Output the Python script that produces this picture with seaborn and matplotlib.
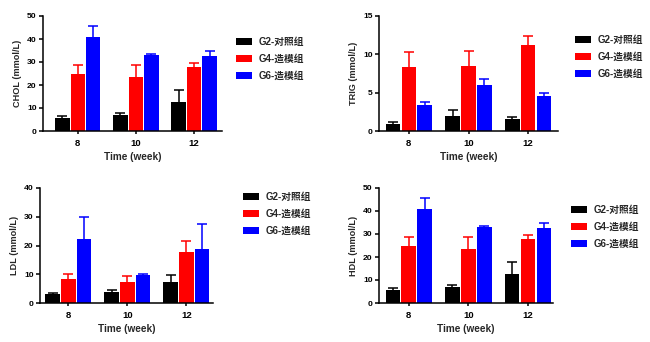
import numpy as np
import pandas as pd
import matplotlib
matplotlib.use("Agg")
import matplotlib.pyplot as plt
import seaborn as sns

# ---- data -------------------------------------------------------------
weeks = ["8", "10", "12"]
groups = ["G2-对照组", "G4-造模组", "G6-造模组"]
colors = ["#000000", "#FF0000", "#0000FF"]

chol_mean = {"G2-对照组": [5.8, 7.0, 12.8], "G4-造模组": [25.0, 23.5, 27.8], "G6-造模组": [41.0, 33.2, 32.6]}
chol_err = {"G2-对照组": [0.6, 0.8, 5.2], "G4-造模组": [3.5, 5.1, 1.8], "G6-造模组": [4.5, 0.3, 2.1]}

trig_mean = {"G2-对照组": [0.95, 1.95, 1.6], "G4-造模组": [8.35, 8.5, 11.25], "G6-造模组": [3.35, 5.95, 4.6]}
trig_err = {"G2-对照组": [0.22, 0.8, 0.2], "G4-造模组": [1.9, 2.0, 1.15], "G6-造模组": [0.45, 0.8, 0.35]}

ldl_mean = {"G2-对照组": [3.1, 3.8, 7.3], "G4-造模组": [8.5, 7.3, 17.9], "G6-造模组": [22.3, 9.9, 18.9]}
ldl_err = {"G2-对照组": [0.3, 0.6, 2.3], "G4-造模组": [1.7, 2.0, 3.5], "G6-造模组": [7.6, 0.2, 8.7]}

hdl_mean = {"G2-对照组": [5.8, 7.0, 12.8], "G4-造模组": [25.0, 23.5, 27.8], "G6-造模组": [41.0, 33.2, 32.6]}
hdl_err = {"G2-对照组": [0.6, 0.8, 5.2], "G4-造模组": [3.5, 5.1, 1.8], "G6-造模组": [4.5, 0.3, 2.1]}

sns.set_theme(style="ticks")
plt.rcParams["font.family"] = ["Liberation Sans", "Noto Sans CJK SC", "DejaVu Sans"]
plt.rcParams["font.weight"] = "bold"
plt.rcParams["axes.labelweight"] = "bold"

fig = plt.figure(figsize=(6.5, 3.42), dpi=100)
W, H = 650.0, 342.0


def to_frame(means, errs):
    rows = []
    for g in groups:
        for w, m, e in zip(weeks, means[g], errs[g]):
            rows.append({"week": w, "group": g, "value": m, "err": e})
    return pd.DataFrame(rows)


def panel(px_left, px_right, px_top, px_bottom, means, errs, ylabel, ymax, ystep,
          xlim, leg_xy):
    ax = fig.add_axes([px_left / W, 1 - px_bottom / H,
                       (px_right - px_left) / W, (px_bottom - px_top) / H])
    df = to_frame(means, errs)
    sns.barplot(data=df, x="week", y="value", hue="group", order=weeks,
                hue_order=groups, palette=colors, errorbar=None,
                width=0.8, gap=0.08, saturation=1, linewidth=0,
                ax=ax, legend=True)
    # upward-only error bars drawn at each bar's centre
    bars = ax.patches[:len(df)]
    for gi, g in enumerate(groups):
        sub = df[df["group"] == g]
        for wi, (val, e) in enumerate(zip(sub["value"], sub["err"])):
            p = bars[gi * len(weeks) + wi]
            xc = p.get_x() + p.get_width() / 2
            ax.plot([xc, xc], [val, val + e], color=colors[gi], lw=1.1,
                    solid_capstyle="butt", zorder=1)
            ax.plot([xc], [val + e], marker="_", markersize=7.5,
                    markeredgewidth=1.1, color=colors[gi], zorder=1)
    ax.set_ylim(0, ymax)
    ax.set_yticks(np.arange(0, ymax + 0.001, ystep))
    ax.set_xlim(*xlim)
    ax.set_xlabel("Time (week)", fontsize=7.2, fontweight="bold", labelpad=3.5)
    ax.set_ylabel(ylabel, fontsize=6.6, fontweight="bold", labelpad=3.5)
    for s in ["top", "right"]:
        ax.spines[s].set_visible(False)
    for s in ["left", "bottom"]:
        ax.spines[s].set_linewidth(1.1)
        ax.spines[s].set_color("black")
    ax.tick_params(axis="y", labelsize=6.1, width=1.1, length=3, pad=1.5, colors="black")
    ax.tick_params(axis="x", labelsize=6.8, width=1.1, length=2.5, pad=3, colors="black")
    for t in ax.get_xticklabels() + ax.get_yticklabels():
        t.set_fontweight("bold")
    handles, labels = ax.get_legend_handles_labels()
    ax.legend_.remove()
    fig.legend(handles, labels, loc="center left",
               bbox_to_anchor=(leg_xy[0] / W, 1 - leg_xy[1] / H),
               frameon=False, handlelength=1.6, handleheight=0.6,
               handletextpad=0.7, labelspacing=0.72, borderpad=0, borderaxespad=0,
               prop={"weight": "bold", "size": 7.0})
    return ax


panel(43, 222, 16, 131, chol_mean, chol_err, "CHOL (mmol/L)", 50, 10, (-0.6, 2.48), (236, 59))
panel(379, 558, 16, 131, trig_mean, trig_err, "TRIG (mmol/L)", 15, 5, (-0.5, 2.5), (575, 57))
panel(40, 213, 188, 303, ldl_mean, ldl_err, "LDL (mmol/L)", 40, 10, (-0.48, 2.45), (243, 214))
panel(379, 553, 188, 303, hdl_mean, hdl_err, "HDL (mmol/L)", 50, 10, (-0.5, 2.42), (571, 227))

fig.savefig("out.png", dpi=100, facecolor="white")
